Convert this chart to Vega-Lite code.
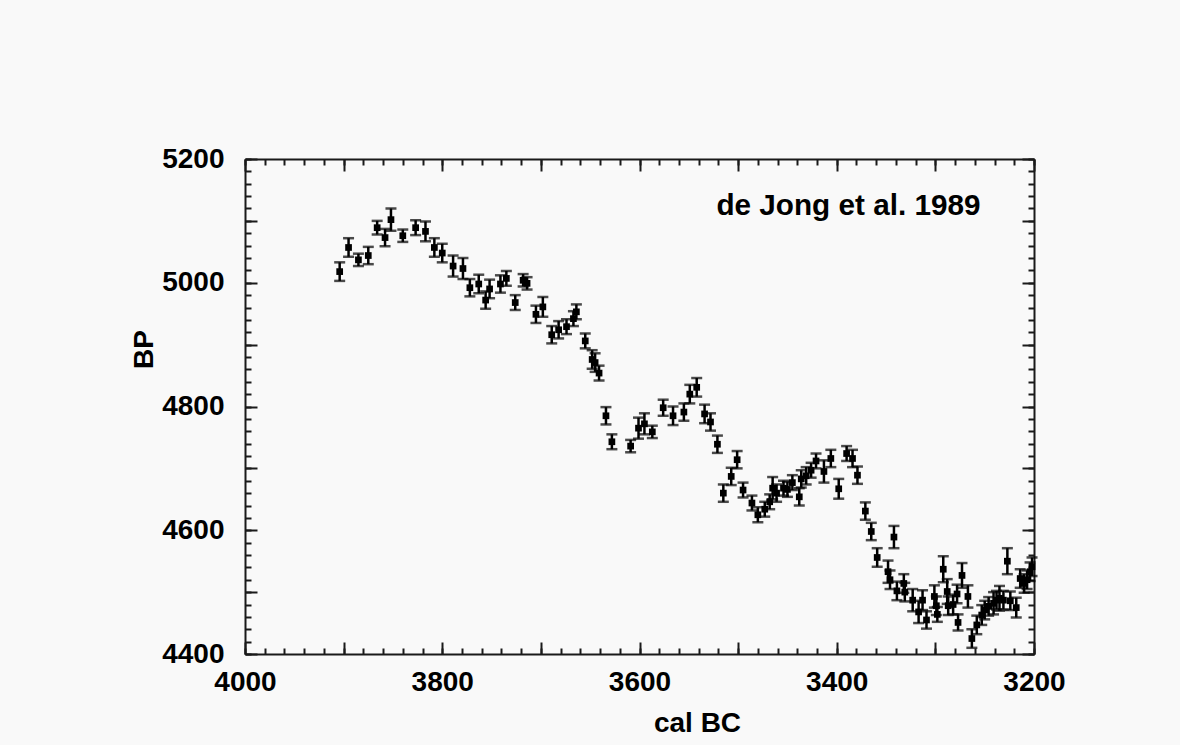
{
  "$schema": "https://vega.github.io/schema/vega-lite/v6.json",
  "width": 789,
  "height": 495,
  "autosize": {"type": "none"},
  "padding": {"left": 245, "top": 159, "right": 146, "bottom": 91},
  "background": "#f9f9f9",
  "config": {
    "view": {"stroke": null},
    "axis": {
      "grid": false,
      "domainColor": "#1a1a1a",
      "domainWidth": 2,
      "tickColor": "#1a1a1a",
      "tickWidth": 2,
      "labelFont": "Liberation Sans",
      "labelFontWeight": "bold",
      "labelFontSize": 28,
      "labelColor": "#000000",
      "labelFlush": false,
      "labelOverlap": false,
      "labelBound": false,
      "titleFont": "Liberation Sans",
      "titleFontWeight": "bold",
      "titleFontSize": 28,
      "titleColor": "#000000"
    }
  },
  "data": {
    "values": [
      {"cal": 3904, "bp": 5018, "lo": 5003, "hi": 5033},
      {"cal": 3895, "bp": 5057, "lo": 5042, "hi": 5072},
      {"cal": 3885, "bp": 5037, "lo": 5027, "hi": 5047},
      {"cal": 3875, "bp": 5044, "lo": 5030, "hi": 5058},
      {"cal": 3866, "bp": 5089, "lo": 5078, "hi": 5100},
      {"cal": 3858, "bp": 5073, "lo": 5059, "hi": 5087},
      {"cal": 3852, "bp": 5102, "lo": 5084, "hi": 5120},
      {"cal": 3840, "bp": 5076, "lo": 5066, "hi": 5086},
      {"cal": 3827, "bp": 5089, "lo": 5077, "hi": 5101},
      {"cal": 3817, "bp": 5083, "lo": 5067, "hi": 5099},
      {"cal": 3808, "bp": 5057, "lo": 5042, "hi": 5072},
      {"cal": 3800, "bp": 5048, "lo": 5033, "hi": 5063},
      {"cal": 3789, "bp": 5027, "lo": 5010, "hi": 5044},
      {"cal": 3779, "bp": 5023, "lo": 5006, "hi": 5040},
      {"cal": 3772, "bp": 4992, "lo": 4978, "hi": 5006},
      {"cal": 3763, "bp": 4998, "lo": 4983, "hi": 5013},
      {"cal": 3756, "bp": 4972, "lo": 4958, "hi": 4986},
      {"cal": 3752, "bp": 4990, "lo": 4975, "hi": 5005},
      {"cal": 3741, "bp": 4998, "lo": 4984, "hi": 5012},
      {"cal": 3735, "bp": 5007, "lo": 4995, "hi": 5019},
      {"cal": 3726, "bp": 4968, "lo": 4956, "hi": 4980},
      {"cal": 3718, "bp": 5004, "lo": 4994, "hi": 5014},
      {"cal": 3714, "bp": 4999, "lo": 4989, "hi": 5009},
      {"cal": 3705, "bp": 4949, "lo": 4935, "hi": 4963},
      {"cal": 3698, "bp": 4961, "lo": 4945, "hi": 4977},
      {"cal": 3689, "bp": 4916, "lo": 4902, "hi": 4930},
      {"cal": 3682, "bp": 4924, "lo": 4910, "hi": 4938},
      {"cal": 3674, "bp": 4929, "lo": 4917, "hi": 4941},
      {"cal": 3667, "bp": 4942, "lo": 4930, "hi": 4954},
      {"cal": 3664, "bp": 4953, "lo": 4941, "hi": 4965},
      {"cal": 3655, "bp": 4906, "lo": 4894, "hi": 4918},
      {"cal": 3648, "bp": 4876, "lo": 4861, "hi": 4891},
      {"cal": 3645, "bp": 4871, "lo": 4856, "hi": 4886},
      {"cal": 3641, "bp": 4854, "lo": 4842, "hi": 4866},
      {"cal": 3634, "bp": 4785, "lo": 4771, "hi": 4799},
      {"cal": 3628, "bp": 4743, "lo": 4731, "hi": 4755},
      {"cal": 3609, "bp": 4736, "lo": 4726, "hi": 4746},
      {"cal": 3601, "bp": 4765, "lo": 4748, "hi": 4782},
      {"cal": 3595, "bp": 4772, "lo": 4755, "hi": 4789},
      {"cal": 3587, "bp": 4759, "lo": 4749, "hi": 4769},
      {"cal": 3576, "bp": 4798, "lo": 4785, "hi": 4811},
      {"cal": 3566, "bp": 4785, "lo": 4770, "hi": 4800},
      {"cal": 3555, "bp": 4791, "lo": 4777, "hi": 4805},
      {"cal": 3549, "bp": 4820, "lo": 4805, "hi": 4835},
      {"cal": 3542, "bp": 4831, "lo": 4816, "hi": 4846},
      {"cal": 3534, "bp": 4788, "lo": 4773, "hi": 4803},
      {"cal": 3528, "bp": 4775, "lo": 4761, "hi": 4789},
      {"cal": 3521, "bp": 4739, "lo": 4725, "hi": 4753},
      {"cal": 3515, "bp": 4660, "lo": 4646, "hi": 4674},
      {"cal": 3507, "bp": 4687, "lo": 4673, "hi": 4701},
      {"cal": 3501, "bp": 4714, "lo": 4700, "hi": 4728},
      {"cal": 3495, "bp": 4665, "lo": 4653, "hi": 4677},
      {"cal": 3486, "bp": 4644, "lo": 4632, "hi": 4656},
      {"cal": 3480, "bp": 4625, "lo": 4613, "hi": 4637},
      {"cal": 3473, "bp": 4634, "lo": 4622, "hi": 4646},
      {"cal": 3468, "bp": 4646, "lo": 4634, "hi": 4658},
      {"cal": 3465, "bp": 4668, "lo": 4650, "hi": 4686},
      {"cal": 3461, "bp": 4660, "lo": 4646, "hi": 4674},
      {"cal": 3454, "bp": 4668, "lo": 4656, "hi": 4680},
      {"cal": 3450, "bp": 4666, "lo": 4654, "hi": 4678},
      {"cal": 3445, "bp": 4677, "lo": 4665, "hi": 4689},
      {"cal": 3438, "bp": 4654, "lo": 4640, "hi": 4668},
      {"cal": 3436, "bp": 4683, "lo": 4669, "hi": 4697},
      {"cal": 3431, "bp": 4688, "lo": 4674, "hi": 4702},
      {"cal": 3426, "bp": 4697, "lo": 4685, "hi": 4709},
      {"cal": 3421, "bp": 4712, "lo": 4700, "hi": 4724},
      {"cal": 3413, "bp": 4695, "lo": 4677, "hi": 4713},
      {"cal": 3406, "bp": 4716, "lo": 4702, "hi": 4730},
      {"cal": 3398, "bp": 4667, "lo": 4651, "hi": 4683},
      {"cal": 3390, "bp": 4724, "lo": 4712, "hi": 4736},
      {"cal": 3384, "bp": 4716, "lo": 4702, "hi": 4730},
      {"cal": 3379, "bp": 4689, "lo": 4675, "hi": 4703},
      {"cal": 3371, "bp": 4631, "lo": 4617, "hi": 4645},
      {"cal": 3365, "bp": 4598, "lo": 4584, "hi": 4612},
      {"cal": 3359, "bp": 4556, "lo": 4541, "hi": 4571},
      {"cal": 3348, "bp": 4533, "lo": 4515, "hi": 4551},
      {"cal": 3346, "bp": 4520, "lo": 4505, "hi": 4535},
      {"cal": 3342, "bp": 4589, "lo": 4571, "hi": 4607},
      {"cal": 3339, "bp": 4502, "lo": 4487, "hi": 4517},
      {"cal": 3332, "bp": 4514, "lo": 4499, "hi": 4529},
      {"cal": 3331, "bp": 4500, "lo": 4485, "hi": 4515},
      {"cal": 3323, "bp": 4487, "lo": 4469, "hi": 4505},
      {"cal": 3317, "bp": 4468, "lo": 4450, "hi": 4486},
      {"cal": 3313, "bp": 4487, "lo": 4471, "hi": 4503},
      {"cal": 3309, "bp": 4455, "lo": 4441, "hi": 4469},
      {"cal": 3301, "bp": 4493, "lo": 4475, "hi": 4511},
      {"cal": 3299, "bp": 4478, "lo": 4463, "hi": 4493},
      {"cal": 3298, "bp": 4464, "lo": 4452, "hi": 4476},
      {"cal": 3292, "bp": 4537, "lo": 4516, "hi": 4558},
      {"cal": 3288, "bp": 4501, "lo": 4481, "hi": 4521},
      {"cal": 3287, "bp": 4478, "lo": 4463, "hi": 4493},
      {"cal": 3282, "bp": 4480, "lo": 4464, "hi": 4496},
      {"cal": 3278, "bp": 4497, "lo": 4482, "hi": 4512},
      {"cal": 3277, "bp": 4451, "lo": 4438, "hi": 4464},
      {"cal": 3273, "bp": 4527, "lo": 4507, "hi": 4547},
      {"cal": 3267, "bp": 4493, "lo": 4475, "hi": 4511},
      {"cal": 3263, "bp": 4425, "lo": 4410, "hi": 4440},
      {"cal": 3258, "bp": 4447, "lo": 4432, "hi": 4462},
      {"cal": 3253, "bp": 4463, "lo": 4447, "hi": 4479},
      {"cal": 3250, "bp": 4471, "lo": 4456, "hi": 4486},
      {"cal": 3246, "bp": 4477, "lo": 4462, "hi": 4492},
      {"cal": 3241, "bp": 4482, "lo": 4464, "hi": 4500},
      {"cal": 3238, "bp": 4487, "lo": 4472, "hi": 4502},
      {"cal": 3235, "bp": 4490, "lo": 4470, "hi": 4510},
      {"cal": 3231, "bp": 4487, "lo": 4472, "hi": 4502},
      {"cal": 3227, "bp": 4550, "lo": 4529, "hi": 4571},
      {"cal": 3224, "bp": 4486, "lo": 4471, "hi": 4501},
      {"cal": 3218, "bp": 4475, "lo": 4459, "hi": 4491},
      {"cal": 3214, "bp": 4522, "lo": 4507, "hi": 4537},
      {"cal": 3210, "bp": 4514, "lo": 4499, "hi": 4529},
      {"cal": 3207, "bp": 4520, "lo": 4505, "hi": 4535},
      {"cal": 3204, "bp": 4533, "lo": 4518, "hi": 4548},
      {"cal": 3202, "bp": 4541, "lo": 4526, "hi": 4556}
    ]
  },
  "layer": [
    {
      "mark": {"type": "rule", "color": "#000000", "strokeWidth": 2.5},
      "encoding": {
        "x": {
          "field": "cal", "type": "quantitative",
          "scale": {"domain": [3200, 4000], "reverse": true, "nice": false, "zero": false},
          "axis": {
            "orient": "bottom",
            "values": [4000, 3900, 3800, 3700, 3600, 3500, 3400, 3300, 3200],
            "tickSize": -12,
            "labelExpr": "datum.value % 200 === 0 ? datum.label : ''",
            "labelPadding": 26,
            "format": "d",
            "title": "cal BC",
            "titleX": 452,
            "titleY": 77,
            "titleBaseline": "alphabetic",
            "titleAlign": "center"
          }
        },
        "y": {
          "field": "lo", "type": "quantitative",
          "scale": {"domain": [4400, 5200], "nice": false, "zero": false},
          "axis": {
            "orient": "left",
            "values": [4400, 4500, 4600, 4700, 4800, 4900, 5000, 5100, 5200],
            "tickSize": -12,
            "labelExpr": "datum.value % 200 === 0 ? datum.label : ''",
            "labelPadding": 33,
            "format": "d",
            "title": "BP",
            "titleX": -93,
            "titleY": 190,
            "titleBaseline": "alphabetic",
            "titleAlign": "center",
            "titleAngle": -90
          }
        },
        "y2": {"field": "hi"}
      }
    },
    {
      "mark": {"type": "tick", "orient": "horizontal", "size": 11, "thickness": 2.5, "color": "#000000"},
      "encoding": {
        "x": {
          "field": "cal", "type": "quantitative",
          "axis": {
            "orient": "bottom",
            "values": [4000, 3980, 3960, 3940, 3920, 3900, 3880, 3860, 3840, 3820, 3800, 3780, 3760, 3740, 3720, 3700, 3680, 3660, 3640, 3620, 3600, 3580, 3560, 3540, 3520, 3500, 3480, 3460, 3440, 3420, 3400, 3380, 3360, 3340, 3320, 3300, 3280, 3260, 3240, 3220, 3200],
            "tickSize": -6, "labels": false, "domain": false, "title": null
          }
        },
        "y": {
          "field": "lo", "type": "quantitative",
          "axis": {
            "orient": "left",
            "values": [4400, 4420, 4440, 4460, 4480, 4500, 4520, 4540, 4560, 4580, 4600, 4620, 4640, 4660, 4680, 4700, 4720, 4740, 4760, 4780, 4800, 4820, 4840, 4860, 4880, 4900, 4920, 4940, 4960, 4980, 5000, 5020, 5040, 5060, 5080, 5100, 5120, 5140, 5160, 5180, 5200],
            "tickSize": -6, "labels": false, "domain": false, "title": null
          }
        }
      }
    },
    {
      "mark": {"type": "tick", "orient": "horizontal", "size": 11, "thickness": 2.5, "color": "#000000"},
      "encoding": {
        "x": {
          "field": "cal", "type": "quantitative",
          "axis": {
            "orient": "top",
            "values": [4000, 3900, 3800, 3700, 3600, 3500, 3400, 3300, 3200],
            "tickSize": -12, "labels": false, "title": null
          }
        },
        "y": {
          "field": "hi", "type": "quantitative",
          "axis": {
            "orient": "right",
            "values": [4400, 4500, 4600, 4700, 4800, 4900, 5000, 5100, 5200],
            "tickSize": -12, "labels": false, "title": null
          }
        }
      }
    },
    {
      "mark": {"type": "point", "shape": "square", "filled": true, "size": 45, "color": "#000000", "opacity": 1},
      "encoding": {
        "x": {
          "field": "cal", "type": "quantitative",
          "axis": {
            "orient": "top",
            "values": [4000, 3980, 3960, 3940, 3920, 3900, 3880, 3860, 3840, 3820, 3800, 3780, 3760, 3740, 3720, 3700, 3680, 3660, 3640, 3620, 3600, 3580, 3560, 3540, 3520, 3500, 3480, 3460, 3440, 3420, 3400, 3380, 3360, 3340, 3320, 3300, 3280, 3260, 3240, 3220, 3200],
            "tickSize": -6, "labels": false, "domain": false, "title": null
          }
        },
        "y": {
          "field": "bp", "type": "quantitative",
          "axis": {
            "orient": "right",
            "values": [4400, 4420, 4440, 4460, 4480, 4500, 4520, 4540, 4560, 4580, 4600, 4620, 4640, 4660, 4680, 4700, 4720, 4740, 4760, 4780, 4800, 4820, 4840, 4860, 4880, 4900, 4920, 4940, 4960, 4980, 5000, 5020, 5040, 5060, 5080, 5100, 5120, 5140, 5160, 5180, 5200],
            "tickSize": -6, "labels": false, "domain": false, "title": null
          }
        }
      }
    },
    {
      "data": {"values": [{"label": "de Jong et al. 1989", "cal": 3522, "bp": 5110}]},
      "mark": {"type": "text", "align": "left", "baseline": "alphabetic", "font": "Liberation Sans", "fontWeight": "bold", "fontSize": 29.7, "color": "#000000"},
      "encoding": {
        "x": {"field": "cal", "type": "quantitative", "axis": null},
        "y": {"field": "bp", "type": "quantitative", "axis": null},
        "text": {"field": "label"}
      }
    }
  ],
  "resolve": {"axis": {"x": "independent", "y": "independent"}}
}
